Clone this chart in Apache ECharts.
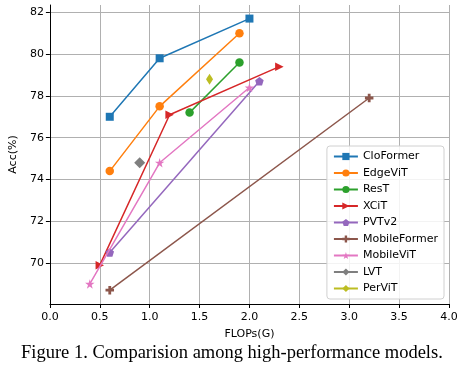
<!DOCTYPE html>
<html><head><meta charset="utf-8">
<script src="https://cdn.jsdelivr.net/npm/echarts@6/dist/echarts.min.js"></script>
<style>html,body{margin:0;padding:0;background:#fff}#c{width:476px;height:373px}</style>
</head><body><div id="c"></div>
<script>
const seriesNames = ['CloFormer','EdgeViT','ResT','XCiT','PVTv2','MobileFormer','MobileViT','LVT','PerViT'];
const cloFormer = [[0.6,77.0],[1.1,79.8],[2.0,81.7]];
const edgeViT = [[0.6,74.4],[1.1,77.5],[1.9,81.0]];
const resT = [[1.4,77.2],[1.9,79.6]];
const xciT = [[0.5,69.9],[1.2,77.1],[2.3,79.4]];
const pvtV2 = [[0.6,70.5],[2.1,78.7]];
const mobileFormer = [[0.6,68.7],[3.2,77.9]];
const mobileViT = [[0.4,69.0],[1.1,74.8],[2.0,78.4]];
const lvt = [[0.9,74.8]];
const perViT = [[1.6,78.8]];
const xTicks = [0,0.5,1,1.5,2,2.5,3,3.5,4];
const yTicks = [70,72,74,76,78,80,82];

const allData = [cloFormer,edgeViT,resT,xciT,pvtV2,mobileFormer,mobileViT,lvt,perViT];
const colors = ['#1f77b4','#ff7f0e','#2ca02c','#d62728','#9467bd','#8c564b','#e377c2','#7f7f7f','#bcbd22'];
const star = (()=>{let p='';for(let i=0;i<10;i++){const r=i%2?0.38:1;const a=-Math.PI/2+i*Math.PI/5;p+=(i?'L':'M')+(r*Math.cos(a)).toFixed(3)+','+(r*Math.sin(a)).toFixed(3)+' ';}return 'path://'+p+'Z';})();
const symbols = ['rect','circle','circle','path://M-1,-1 L1,0 L-1,1 Z',
 'path://M0,-1 L0.951,-0.309 L0.588,0.809 L-0.588,0.809 L-0.951,-0.309 Z',
 'path://M-0.33,-1 L0.33,-1 L0.33,-0.33 L1,-0.33 L1,0.33 L0.33,0.33 L0.33,1 L-0.33,1 L-0.33,0.33 L-1,0.33 L-1,-0.33 L-0.33,-0.33 Z',
 star,'diamond','diamond'];
const sizes = [8,8.5,8.5,8.5,8.5,8.5,9.5,11,[7,11]];

const chart = echarts.init(document.getElementById('c'));
const font = 'DejaVu Sans';
chart.setOption({
  animation:false,
  grid:{left:47,right:27,top:5,bottom:69},
  xAxis:{type:'value',min:0,max:4,interval:0.5,
    name:'FLOPs(G)',nameLocation:'middle',nameGap:25,
    nameTextStyle:{fontFamily:font,fontSize:11,color:'#000'},
    axisLine:{show:true,onZero:false,lineStyle:{color:'#000',width:1}},
    axisTick:{show:true,length:4,lineStyle:{color:'#000'}},
    axisLabel:{fontFamily:font,fontSize:11,color:'#000',margin:8,formatter:v=>v.toFixed(1)},
    splitLine:{show:true,lineStyle:{color:'#b0b0b0',width:1}}},
  yAxis:{type:'value',min:68.04,max:82.35,
    name:'Acc(%)',nameLocation:'middle',nameGap:29,nameRotate:90,
    nameTextStyle:{fontFamily:font,fontSize:11,color:'#000'},
    axisLine:{show:true,onZero:false,lineStyle:{color:'#000',width:1}},
    axisTick:{show:true,length:4,lineStyle:{color:'#000'},customValues:yTicks},
    axisLabel:{fontFamily:font,fontSize:11,color:'#000',margin:6,customValues:yTicks},
    splitLine:{show:true,lineStyle:{color:'#b0b0b0',width:1}}},
  legend:{orient:'vertical',right:32,top:146,
    data:seriesNames,
    itemWidth:24,itemHeight:9,itemGap:5.5,
    padding:[5,6,5,6],
    backgroundColor:'rgba(255,255,255,0.85)',
    borderColor:'#d0d0d0',borderWidth:1,borderRadius:3,
    textStyle:{fontFamily:font,fontSize:11,color:'#000'}},
  graphic:[{type:'text',left:21,top:343.5,
    style:{text:'Figure 1. Comparision among high-performance models.',
      font:'18.5px "Liberation Serif"',fill:'#000'}}],
  series: seriesNames.map((n,i)=>({
    name:n,type:'line',data:allData[i],
    symbol:symbols[i],symbolSize:sizes[i],
    showAllSymbol:true,
    lineStyle:{color:colors[i],width:1.5},
    itemStyle:{color:colors[i],borderWidth:0},
    z:2+i
  }))
});
</script></body></html>
